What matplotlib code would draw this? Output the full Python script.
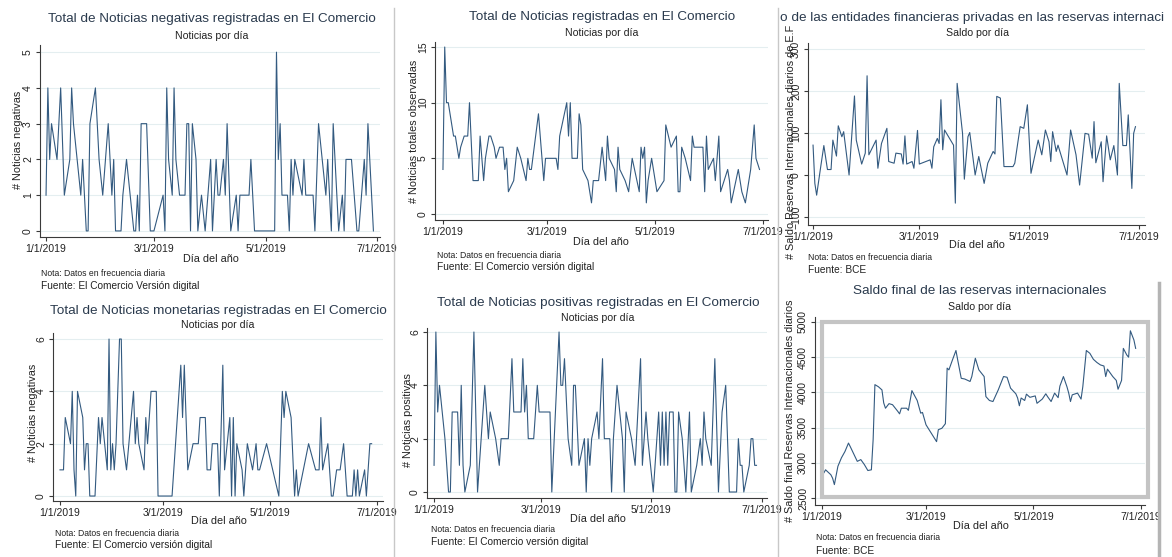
# Rebuild of the six Stata daily series panels (El Comercio / BCE)
import pandas as pd
import matplotlib
matplotlib.use("Agg")
import matplotlib.pyplot as plt
from matplotlib.lines import Line2D
from matplotlib.patches import Rectangle
from matplotlib.ticker import FuncFormatter
import matplotlib.dates as mdates

plt.rcParams['font.family'] = ['Liberation Sans', 'DejaVu Sans']

W, H = 1172, 557
T0 = pd.Timestamp('2019-01-01')

# ---- data (day offset from 1/1/2019, value) ----
neg_day = [0, 1, 2, 3, 6, 8, 10, 13, 14, 15, 19, 20, 22, 23, 24, 27, 29, 31, 34, 36,
           37, 38, 41, 42, 44, 48, 49, 50, 51, 52, 55, 57, 59, 64, 65, 66, 67, 69, 70, 71,
           73, 76, 77, 78, 79, 80, 82, 83, 85, 87, 90, 91, 93, 94, 95, 97, 98, 99, 101, 104,
           105, 106, 111, 112, 114, 125, 126, 127, 128, 129, 132, 133, 134, 135, 136, 140, 141, 142, 146, 147,
           149, 151, 153, 154, 156, 157, 159, 160, 162, 163, 164, 167, 170, 171, 174, 175, 176, 177, 179]
neg_val = [1, 4, 2, 3, 2, 4, 1, 2, 4, 3, 1, 2, 0, 0, 3, 4, 2, 1, 3, 1,
           2, 0, 0, 1, 2, 0, 0, 1, 0, 3, 3, 0, 0, 1, 0, 4, 2, 1, 4, 2,
           1, 1, 3, 3, 0, 3, 2, 0, 1, 0, 2, 0, 2, 1, 1, 2, 1, 3, 0, 1,
           0, 1, 1, 2, 0, 0, 5, 2, 3, 1, 1, 0, 2, 1, 2, 1, 2, 1, 1, 0,
           3, 2, 1, 2, 0, 3, 1, 0, 1, 0, 2, 2, 0, 0, 2, 1, 3, 2, 0]

tot_day = [0, 1, 2, 3, 6, 7, 9, 10, 12, 14, 15, 17, 20, 21, 23, 24, 26, 27, 29, 30,
           32, 34, 35, 36, 37, 40, 42, 44, 47, 48, 49, 50, 54, 55, 57, 58, 64, 65, 66, 70,
           71, 72, 73, 76, 77, 78, 79, 82, 84, 85, 88, 90, 92, 93, 94, 97, 98, 99, 100, 103,
           105, 107, 111, 112, 113, 114, 115, 116, 118, 121, 125, 126, 129, 132, 133, 134, 135, 137, 140, 141,
           142, 147, 148, 149, 150, 153, 154, 156, 157, 161, 162, 163, 167, 169, 171, 174, 176, 177, 179]
tot_val = [4, 15, 10, 10, 7, 7, 5, 6, 7, 7, 10, 3, 3, 7, 3, 5, 7, 7, 6, 5,
           6, 6, 4, 5, 2, 3, 6, 5, 3, 5, 4, 4, 9, 7, 3, 5, 5, 4, 7, 10,
           7, 10, 5, 5, 9, 8, 4, 3, 1, 3, 3, 6, 3, 7, 5, 4, 2, 6, 4, 3,
           2, 5, 2, 6, 5, 6, 1, 3, 5, 2, 3, 8, 6, 7, 2, 2, 6, 5, 3, 7,
           6, 6, 2, 7, 4, 5, 3, 7, 2, 4, 3, 1, 4, 2, 1, 4, 8, 5, 4]

ef_day = [0, 1, 2, 4, 6, 8, 10, 11, 13, 14, 16, 17, 20, 23, 24, 27, 29, 30, 31, 35,
          36, 38, 41, 42, 45, 46, 49, 50, 51, 52, 55, 56, 58, 59, 65, 66, 67, 69, 70, 71,
          72, 73, 78, 79, 80, 83, 84, 86, 87, 90, 92, 95, 97, 100, 101, 102, 104, 106, 111, 112,
          115, 117, 119, 121, 125, 127, 129, 131, 132, 133, 135, 136, 141, 143, 146, 148, 151, 153, 155, 156,
          157, 160, 161, 163, 165, 167, 169, 170, 172, 174, 175, 177, 178, 179]
ef_val = [71, -20, -48, 12, 70, 13, 13, 83, 45, 117, 91, 103, 0, 188, 83, 26, 52, 236, 48, 83,
          16, 75, 111, 32, 28, 52, 50, 26, 93, 26, 32, 16, 106, 26, 36, 16, 67, 87, 75, 179,
          60, 107, 71, -67, 218, 99, -10, 91, 101, 0, 44, -20, 28, 56, 50, 187, 183, 20, 20, 28,
          115, 111, 167, 4, 83, 48, 107, 79, 32, 103, 56, 71, 0, 107, 48, -24, 99, 97, 40, 127,
          29, 79, -16, 93, 36, 70, 0, 218, 70, 70, 143, -32, 99, 115]

mon_day = [0, 2, 3, 6, 7, 8, 9, 10, 13, 14, 15, 16, 17, 20, 22, 23, 24, 27, 28, 29,
           30, 31, 32, 34, 35, 36, 38, 42, 43, 44, 45, 48, 49, 50, 51, 52, 55, 56, 64, 69,
           70, 71, 73, 76, 79, 80, 83, 84, 86, 87, 90, 91, 93, 94, 97, 98, 99, 100, 101, 104,
           105, 107, 110, 112, 113, 114, 118, 125, 127, 128, 129, 132, 134, 135, 136, 139, 142, 146, 148, 149,
           150, 153, 155, 156, 158, 160, 162, 164, 167, 168, 169, 170, 171, 174, 175, 177, 178]
mon_val = [1, 1, 3, 2, 4, 1, 0, 4, 3, 1, 2, 2, 0, 0, 3, 2, 3, 1, 6, 1,
           2, 1, 2, 6, 6, 2, 1, 4, 2, 3, 2, 1, 3, 2, 3, 4, 4, 0, 0, 5,
           3, 5, 1, 2, 2, 3, 3, 1, 1, 2, 2, 0, 5, 1, 3, 0, 3, 0, 2, 1,
           0, 2, 1, 2, 1, 1, 2, 0, 4, 3, 4, 3, 0, 1, 0, 1, 2, 1, 1, 3,
           1, 2, 0, 0, 1, 1, 2, 0, 0, 1, 0, 1, 0, 1, 0, 2, 2]

pos_day = [0, 1, 2, 3, 6, 8, 9, 10, 13, 14, 15, 16, 17, 20, 22, 24, 28, 30, 31, 34,
           36, 37, 41, 43, 44, 48, 49, 50, 51, 52, 55, 57, 58, 64, 65, 69, 70, 71, 72, 74,
           76, 77, 78, 80, 83, 84, 85, 86, 87, 90, 91, 93, 94, 97, 98, 99, 101, 104, 105, 106,
           109, 111, 114, 115, 117, 118, 121, 124, 125, 126, 127, 128, 129, 130, 132, 133, 134, 135, 137, 139,
           141, 142, 145, 147, 148, 149, 150, 153, 155, 157, 159, 161, 163, 167, 168, 169, 170, 171, 174, 175,
           176, 177, 178]
pos_val = [1, 6, 3, 4, 2, 0, 0, 3, 3, 1, 4, 1, 0, 1, 6, 0, 4, 2, 3, 2,
           1, 2, 2, 5, 3, 3, 5, 3, 4, 2, 2, 4, 3, 3, 0, 6, 4, 4, 5, 2,
           1, 4, 4, 1, 2, 0, 2, 1, 2, 3, 2, 5, 2, 2, 0, 2, 4, 2, 0, 3,
           2, 1, 5, 1, 3, 2, 0, 3, 1, 3, 1, 3, 1, 3, 3, 0, 0, 3, 2, 0,
           3, 0, 1, 2, 1, 3, 2, 1, 5, 0, 3, 4, 0, 0, 2, 1, 1, 0, 1, 2,
           2, 1, 1]

res_day = [0, 1, 2, 5, 6, 7, 9, 11, 13, 15, 16, 20, 22, 24, 26, 28, 29, 30, 32, 34,
           35, 36, 38, 40, 43, 44, 45, 48, 49, 51, 54, 56, 57, 59, 62, 65, 66, 68, 70, 71,
           72, 74, 76, 77, 79, 81, 84, 85, 87, 89, 92, 93, 95, 97, 100, 103, 105, 107, 110, 111,
           112, 113, 115, 116, 118, 121, 122, 125, 127, 128, 130, 132, 134, 135, 137, 139, 140, 141, 142, 145,
           147, 148, 150, 152, 154, 156, 158, 160, 161, 162, 165, 167, 168, 170, 171, 173, 174, 175, 177, 178]
res_val = [2900, 2855, 2900, 2830, 2780, 2690, 2950, 3070, 3160, 3280, 3230, 3020, 3045, 2975, 2890,
           2900, 3330, 4110, 4080, 4035, 3850, 3775, 3840, 3825, 3730, 3695, 3775, 3775, 3745, 4025,
           3885, 3705, 3715, 3540, 3420, 3300, 3470, 3490, 3555, 4345, 4320, 4460, 4595, 4460, 4200,
           4190, 4155, 4225, 4485, 4320, 4225, 3940, 3885, 3870, 4035, 4225, 4215, 4060, 3980, 3920,
           3810, 3920, 3885, 3975, 3930, 3950, 3845, 3905, 3980, 3940, 3870, 3990, 3925, 4090, 4225,
           4080, 3990, 3870, 3965, 3990, 3905, 4080, 4595, 4555, 4470, 4425, 4390, 4375, 4225, 4330,
           4225, 4170, 4045, 4170, 4625, 4530, 4500, 4875, 4745, 4625]

date_ticks = pd.to_datetime(['2019-01-01', '2019-03-01', '2019-05-01', '2019-07-01'])

LINE = '#335a80'
AXC = '#3a3a3a'
TXT = '#222222'
TTL = '#2a3a4d'

# font sizes (pt)
FS_T, FS_S, FS_AX, FS_TK, FS_N, FS_F = 9.7, 7.6, 7.8, 7.5, 6.2, 7.3

fig = plt.figure(figsize=(W / 100, H / 100), dpi=100)
fig.patch.set_facecolor('white')


def ftext(x, y, s, size, ha='center', rot=0, color=TXT):
    fig.text(x / W, 1 - y / H, s, fontsize=size, ha=ha, va='center',
             rotation=rot, color=color)


def vline(x, y0, y1, color='#c8c8c8', lw=1.0):
    fig.add_artist(Line2D([x / W, x / W], [1 - y0 / H, 1 - y1 / H],
                          transform=fig.transFigure, color=color, lw=lw))


def mdy(v, pos):
    d = mdates.num2date(v)
    return f"{d.month}/{d.day}/{d.year}"


def panel(box, days, vals, xlim, ylim, yticks):
    left, top, right, bottom = box
    ax = fig.add_axes([left / W, 1 - bottom / H, (right - left) / W, (bottom - top) / H])
    dates = T0 + pd.to_timedelta(days, unit='D')
    ax.plot(dates, vals, color=LINE, lw=0.8)
    ax.set_xlim(T0 + pd.Timedelta(days=xlim[0]), T0 + pd.Timedelta(days=xlim[1]))
    ax.set_ylim(*ylim)
    ax.set_xticks(date_ticks)
    ax.xaxis.set_major_formatter(FuncFormatter(mdy))
    ax.set_yticks(yticks)
    for s in ['top', 'right']:
        ax.spines[s].set_visible(False)
    for s in ['left', 'bottom']:
        ax.spines[s].set_color(AXC)
        ax.spines[s].set_linewidth(0.8)
    ax.tick_params(axis='both', direction='out', length=3, width=0.8, color=AXC,
                   labelsize=FS_TK, labelcolor=TXT, pad=2)
    for lab in ax.get_yticklabels():
        lab.set_rotation(90)
        lab.set_va('center')
    ax.yaxis.grid(True, color='#e4eef0', lw=0.8)
    ax.set_axisbelow(True)
    ax.patch.set_alpha(0)
    return ax


# top-left: negativas
panel((40, 45, 380, 237), neg_day, neg_val, (-3.3, 182.6), (-0.17, 5.2), range(0, 6))
ftext(212, 19, 'Total de Noticias negativas registradas en El Comercio', FS_T, color=TTL)
ftext(212, 36, 'Noticias por día', FS_S)
ftext(18, 140, '# Noticias negativas', FS_AX, rot=90)
ftext(211, 259, 'Día del año', FS_AX)
ftext(41, 273, 'Nota: Datos en frecuencia diaria', FS_N, ha='left')
ftext(41, 286, 'Fuente: El Comercio Versión digital', FS_F, ha='left')

# top-middle: total
panel((435, 42, 768, 220), tot_day, tot_val, (-4.5, 183.8), (-0.54, 15.45), [0, 5, 10, 15])
ftext(602, 17, 'Total de Noticias registradas en El Comercio', FS_T, color=TTL)
ftext(602, 33, 'Noticias por día', FS_S)
ftext(414, 131, '# Noticias totales observadas', FS_AX, rot=90)
ftext(601, 242, 'Día del año', FS_AX)
ftext(437, 255, 'Nota: Datos en frecuencia diaria', FS_N, ha='left')
ftext(437, 267, 'Fuente: El Comercio versión digital', FS_F, ha='left')

# top-right: entidades financieras (title cut off in the source screenshot)
panel((808, 43, 1145, 225), ef_day, ef_val, (-2.8, 184.3), (-119, 314), [-100, 0, 100, 200, 300])
ftext(780, 18, 'o de las entidades financieras privadas en las reservas internaci', FS_T,
      ha='left', color=TTL)
ftext(977, 33, 'Saldo por día', FS_S)
ftext(791, 142, '# Saldo Reservas Internacionales diarios de E.F', FS_AX, rot=90)
ftext(977, 245, 'Día del año', FS_AX)
ftext(808, 257, 'Nota: Datos en frecuencia diaria', FS_N, ha='left')
ftext(808, 270, 'Fuente: BCE', FS_F, ha='left')

# bottom-left: monetarias
panel((53, 333, 383, 501), mon_day, mon_val, (-4.0, 184.5), (-0.19, 6.23), [0, 2, 4, 6])
ftext(218, 311, 'Total de Noticias monetarias registradas en El Comercio', FS_T, color=TTL)
ftext(218, 325, 'Noticias por día', FS_S)
ftext(33, 413, '# Noticias negativas', FS_AX, rot=90)
ftext(219, 521, 'Día del año', FS_AX)
ftext(55, 534, 'Nota: Datos en frecuencia diaria', FS_N, ha='left')
ftext(55, 545, 'Fuente: El Comercio versión digital', FS_F, ha='left')

# bottom-middle: positivas
panel((427, 328, 767, 498), pos_day, pos_val, (-3.9, 183.8), (-0.225, 6.15), [0, 2, 4, 6])
ftext(598, 303, 'Total de Noticias positivas registradas en El Comercio', FS_T, color=TTL)
ftext(598, 318, 'Noticias por día', FS_S)
ftext(408, 420, '# Noticias positivas', FS_AX, rot=90)
ftext(598, 519, 'Día del año', FS_AX)
ftext(431, 530, 'Nota: Datos en frecuencia diaria', FS_N, ha='left')
ftext(431, 542, 'Fuente: El Comercio versión digital', FS_F, ha='left')

# bottom-right: reservas
panel((815, 317, 1145, 505), res_day, res_val, (-4.0, 183.3), (2400, 5071),
      [2500, 3000, 3500, 4000, 4500, 5000])
fig.add_artist(Rectangle((822 / W, 1 - 497 / H), (1148 - 822) / W, (497 - 322) / H,
                         transform=fig.transFigure, fill=False, ec='#c4c4c4', lw=3))
ftext(980, 291, 'Saldo final de las reservas internacionales', FS_T, color=TTL)
ftext(980, 307, 'Saldo por día', FS_S)
ftext(790, 411, '# Saldo final Reservas Internacionales diarios', FS_AX, rot=90)
ftext(981, 526, 'Día del año', FS_AX)
ftext(816, 538, 'Nota: Datos en frecuencia diaria', FS_N, ha='left')
ftext(816, 551, 'Fuente: BCE', FS_F, ha='left')

# screenshot borders between the pasted panels
vline(393.5, 8, 557)
vline(778, 8, 557)
vline(1159, 283, 557, color='#b4b4b4', lw=2.5)

fig.savefig('out.png', dpi=100, facecolor='white')
